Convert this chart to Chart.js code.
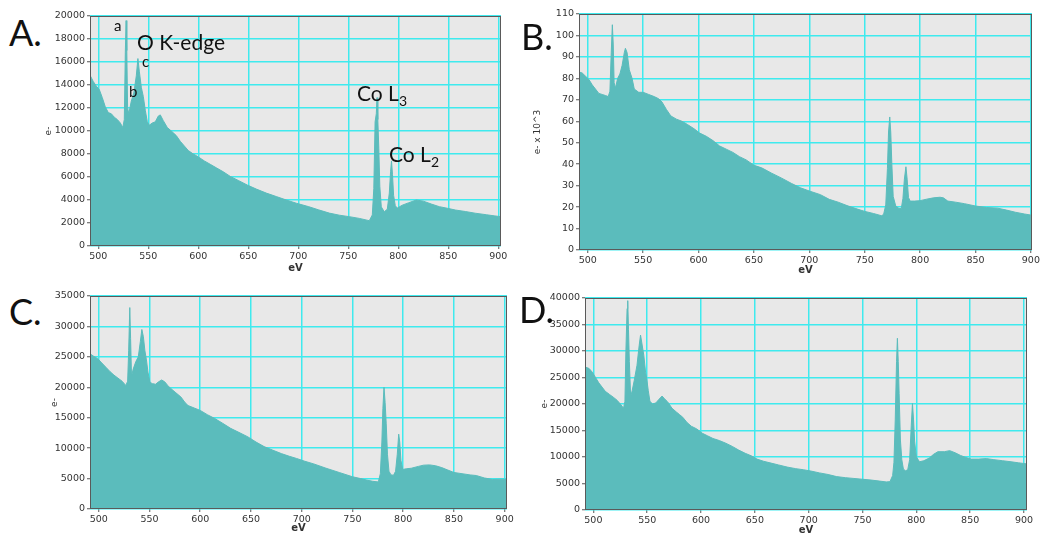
<!DOCTYPE html>
<html>
<head>
<meta charset="utf-8">
<script src="https://cdn.jsdelivr.net/npm/chart.js@4.4.1/dist/chart.umd.min.js"></script>
<style>
  body { margin: 0; background: #fff; width: 1052px; height: 536px; overflow: hidden; position: relative; font-family: Lato, "Open Sans", sans-serif; }
  canvas { position: absolute; }
  .lbl { position: absolute; color: #111; line-height: 1; white-space: nowrap; }
  .panel { font-size: 36px; }
  .note { font-size: 21px; }
  .small { font-size: 15px; }
  sub { font-size: 14px; vertical-align: -5px; line-height: 0; }
</style>
</head>
<body>
<canvas id="chartA" width="470" height="268" style="left:43px;top:6px"></canvas>
<canvas id="chartB" width="512" height="272" style="left:532px;top:4px"></canvas>
<canvas id="chartC" width="470" height="248" style="left:49px;top:286px"></canvas>
<canvas id="chartD" width="500" height="248" style="left:539px;top:288px"></canvas>

<div class="lbl panel" style="left:9px;top:14px">A.</div>
<div class="lbl panel" style="left:521px;top:18px">B.</div>
<div class="lbl panel" style="left:9px;top:293px">C.</div>
<div class="lbl panel" style="left:519px;top:291px">D.</div>

<div class="lbl small" style="left:114px;top:18px">a</div>
<div class="lbl note" style="left:137px;top:31px">O K-edge</div>
<div class="lbl small" style="left:142px;top:54px">c</div>
<div class="lbl small" style="left:129px;top:84px">b</div>
<div class="lbl note" style="left:357px;top:82px">Co L<sub>3</sub></div>
<div class="lbl note" style="left:389px;top:143px">Co L<sub>2</sub></div>

<script>
// shared x ticks (eV)
const xTicks = [500, 550, 600, 650, 700, 750, 800, 850, 900];

// A
const energyA = [492, 495, 498, 501, 504, 507, 510, 513, 516, 519, 522, 524.5, 526, 527, 527.8, 528.5, 529.3, 530.5, 533, 535.5, 538, 539.6, 541, 543, 545, 547, 549, 551, 554, 557, 560, 562, 565, 569, 573, 578, 582, 586, 590, 595, 600, 606, 612, 618, 625, 632, 640, 649, 658, 668, 678, 688, 698, 710, 720, 731, 741, 751, 761, 771, 774, 775.5, 776.8, 778, 778.7, 779.5, 780.5, 781.5, 783, 786, 789, 791, 792.3, 793.2, 794.2, 795.3, 797, 799, 804, 810, 818, 825, 833, 841, 849, 857, 867, 877, 888, 896, 902.7];
const countsA = [14800, 14300, 13900, 13600, 12900, 12100, 11600, 11500, 11200, 11000, 10700, 10300, 11000, 16800, 19600, 17000, 12000, 11500, 12600, 13300, 14800, 16300, 15200, 13800, 13000, 11800, 10800, 10500, 10700, 10800, 11300, 11400, 10900, 10300, 10000, 9600, 9100, 8700, 8300, 8000, 7750, 7400, 7100, 6800, 6450, 6050, 5700, 5300, 4950, 4600, 4300, 4000, 3720, 3430, 3150, 2860, 2680, 2550, 2400, 2200, 2700, 5000, 10800, 11500, 12900, 11000, 8500, 5200, 3400, 2980, 3200, 4600, 6500, 7400, 6200, 4400, 3500, 3300, 3550, 3750, 4000, 3900, 3650, 3420, 3280, 3130, 3000, 2850, 2720, 2620, 2550];
const yTicksA = [0, 2000, 4000, 6000, 8000, 10000, 12000, 14000, 16000, 18000, 20000];

// B (e- x 10^3)
const energyB = [492, 495, 498, 501, 504, 507, 510, 513, 516, 518.5, 520, 521.2, 522.2, 523, 523.8, 525, 527, 529, 531, 533, 534, 535.5, 537.5, 540, 542, 546, 550, 555, 560, 564, 567, 571, 575, 580, 585, 590, 596, 601, 607, 613, 619, 625, 631, 637, 643, 650, 657, 666, 675, 684, 692, 700, 710, 718, 726, 734, 742, 750, 758, 765, 767, 769, 770.5, 771.5, 772.6, 773.5, 774.5, 775.7, 778, 781, 783, 784.5, 785.8, 787.2, 788.3, 789.5, 791, 795, 800, 806, 812, 818, 821, 825, 832, 840, 850, 860, 870, 878, 886, 894, 901];
const countsB = [83, 82.5, 81, 79.5, 77, 75, 73, 72.5, 72, 71.5, 74, 92, 105, 96, 78, 75.5, 80, 82, 86, 92, 94, 92, 84, 80, 75, 73.5, 73.5, 72.5, 71.5, 70.5, 69, 65.5, 62.5, 61, 60, 58.5, 56.5, 54.5, 53, 51, 48.5, 47, 45.5, 43.5, 42, 39.5, 38.3, 35.8, 33.5, 31, 29, 27.5, 25.8, 23.6, 22.3, 20.7, 19.3, 18, 17, 16, 16.5, 21, 38, 55, 62, 55, 40, 25, 20.5, 19.3, 19.3, 24, 33, 38.8, 33, 24.5, 22.8, 22.8, 23, 23.7, 24.3, 24.6, 24.3, 22.8, 22.3, 21.6, 20.5, 19.8, 19.5, 18.6, 17.6, 16.8, 16.2];
const yTicksB = [0, 10, 20, 30, 40, 50, 60, 70, 80, 90, 100, 110];

// C
const energyC = [491.4, 495, 499, 503, 507, 511, 515, 519, 523, 526.7, 528.5, 529.5, 530.6, 531.4, 532.3, 534, 536.5, 539, 541, 542.5, 544, 545.5, 547, 548.5, 550.5, 553, 556, 559, 562, 565, 568, 571, 576, 581, 585, 588, 594, 600, 607, 614, 622, 630, 638, 647, 655, 663, 671, 680, 688, 695, 703, 712, 724, 737, 750, 758, 764, 770, 775.5, 777.5, 779, 780, 781.1, 782.2, 783.3, 784.5, 786, 788, 790.5, 792.5, 794.2, 795.6, 796.6, 797.8, 799.5, 803, 808, 815, 820, 826, 832, 838, 844, 850, 858, 866, 872, 880, 888, 895, 902.3];
const countsC = [25500, 25100, 24700, 24000, 23300, 22600, 22000, 21500, 21000, 20300, 21000, 26000, 33100, 28000, 21800, 23000, 24200, 25000, 27500, 29500, 28300, 26000, 24500, 22500, 20800, 20600, 20500, 20900, 21200, 20900, 20300, 19800, 19100, 18400, 17500, 17000, 16600, 16200, 15500, 14900, 14100, 13250, 12600, 11850, 11000, 10250, 9700, 9100, 8650, 8300, 7850, 7400, 6700, 6000, 5300, 5000, 4750, 4550, 4450, 5800, 11000, 16500, 20000, 17500, 14000, 9000, 6200, 5600, 5550, 6200, 9000, 12300, 11000, 8000, 6500, 6600, 6700, 7000, 7200, 7250, 7100, 6800, 6400, 6000, 5800, 5600, 5500, 5100, 4850, 4900, 4900];
const yTicksC = [0, 5000, 10000, 15000, 20000, 25000, 30000, 35000];

// D
const energyD = [492.2, 496, 499, 502, 505, 508, 511, 515, 519, 522, 525, 528, 529.3, 530.2, 531.3, 531.9, 532.6, 533.4, 534.6, 536, 538, 540.5, 542.5, 543.8, 545, 546.8, 548.5, 549.5, 551, 552.5, 555, 558, 561, 563.8, 566, 569, 573, 577, 580, 583, 587, 591, 596, 601, 606, 611, 617, 623, 629, 635, 641, 647, 652, 658, 665, 672, 680, 688, 695, 702, 710, 718, 726, 734, 742, 750, 758, 766, 772, 775.5, 778, 779.2, 780.4, 781.6, 782.4, 783.2, 784, 785.2, 786.5, 788, 790, 792, 793.8, 795.3, 796.4, 797.4, 798.4, 800, 803, 807, 812, 816, 820, 826, 831, 836, 841, 846, 851, 858, 865, 872, 880, 888, 895, 902.8];
const countsD = [27000, 26700, 26000, 25000, 24000, 23200, 22400, 21800, 21200, 20700, 20000, 19200, 20500, 30000, 38000, 39500, 34000, 28000, 21400, 22500, 24500, 27300, 31000, 33000, 31500, 29200, 26000, 24800, 22500, 20500, 20000, 20200, 20900, 21500, 21000, 20400, 19200, 18500, 18000, 17500, 16500, 15800, 15300, 14500, 14000, 13500, 13100, 12600, 12000, 11300, 10700, 10200, 9600, 9200, 8850, 8500, 8100, 7800, 7600, 7350, 7000, 6700, 6300, 6100, 5950, 5800, 5650, 5450, 5300, 5350, 6500, 9000, 17000, 28000, 32400, 28000, 22000, 13200, 9500, 7700, 7400, 7600, 9500, 16000, 20100, 17000, 13000, 10000, 9100, 9300, 9800, 10500, 11000, 11000, 11200, 10800, 10300, 9900, 9600, 9600, 9700, 9500, 9300, 9100, 8900, 8700];
const yTicksD = [0, 5000, 10000, 15000, 20000, 25000, 30000, 35000, 40000];

const TEAL = "#5bbcbc";
const GRID = "#3eeaee";

// grey plot background + dark frame
const plotFrame = {
  id: "plotFrame",
  beforeDraw(chart) {
    const { ctx, chartArea: a } = chart;
    ctx.save();
    ctx.fillStyle = "#e8e8e8";
    ctx.fillRect(a.left, a.top, a.width, a.height);
    ctx.restore();
  },
  afterDraw(chart) {
    const { ctx, chartArea: a } = chart;
    ctx.save();
    ctx.strokeStyle = "#5a5a5a";
    ctx.lineWidth = 1;
    ctx.strokeRect(a.left + 0.5, a.top + 0.5, a.width - 1, a.height - 1);
    ctx.restore();
  },
};

function makePanel(id, energy, counts, xMin, xMax, yTicks, yTitle, yWidth, xHeight) {
  const tickFont = { family: "DejaVu Sans", size: 9.5 };
  new Chart(document.getElementById(id), {
    type: "line",
    data: {
      datasets: [
        {
          data: energy.map((e, i) => ({ x: e, y: counts[i] })),
          borderColor: TEAL,
          backgroundColor: TEAL,
          borderWidth: 1,
          pointRadius: 0,
          fill: "origin",
          tension: 0,
        },
      ],
    },
    options: {
      responsive: false,
      animation: false,
      layout: { padding: { left: 0, top: 10, right: 12, bottom: 0 } },
      plugins: { legend: { display: false }, tooltip: { enabled: false } },
      scales: {
        x: {
          type: "linear",
          min: xMin,
          max: xMax,
          afterBuildTicks: (s) => { s.ticks = xTicks.map((v) => ({ value: v })); },
          afterFit: (s) => { s.height = xHeight; },
          ticks: { font: tickFont, color: "#333", padding: 2, maxRotation: 0, autoSkip: false, callback: (v) => String(v) },
          grid: { color: GRID, lineWidth: 1.5, tickLength: 3, tickColor: "#555", tickWidth: 1 },
          border: { display: false },
          title: { display: true, text: "eV", color: "#333", padding: 0, font: { family: "DejaVu Sans", size: 10, weight: "bold" } },
        },
        y: {
          min: 0,
          max: yTicks[yTicks.length - 1],
          afterBuildTicks: (s) => { s.ticks = yTicks.map((v) => ({ value: v })); },
          afterFit: (s) => { s.width = yWidth; },
          ticks: { font: tickFont, color: "#333", padding: 2, autoSkip: false, callback: (v) => String(v) },
          grid: { color: GRID, lineWidth: 1.5, tickLength: 3, tickColor: "#555", tickWidth: 1 },
          border: { display: false },
          title: { display: true, text: yTitle, color: "#333", padding: 0, font: { family: "DejaVu Sans", size: 9 } },
        },
      },
    },
    plugins: [plotFrame],
  });
}

makePanel("chartA", energyA, countsA, 491.7, 902.7, yTicksA, "e-", 47, 28);
makePanel("chartB", energyB, countsB, 492.1, 901, yTicksB, "e- x 10^3", 47, 26);
makePanel("chartC", energyC, countsC, 491.4, 902.3, yTicksC, "e-", 41, 25);
makePanel("chartD", energyD, countsD, 492.2, 902.8, yTicksD, "e-", 46, 26);
</script>
</body>
</html>
